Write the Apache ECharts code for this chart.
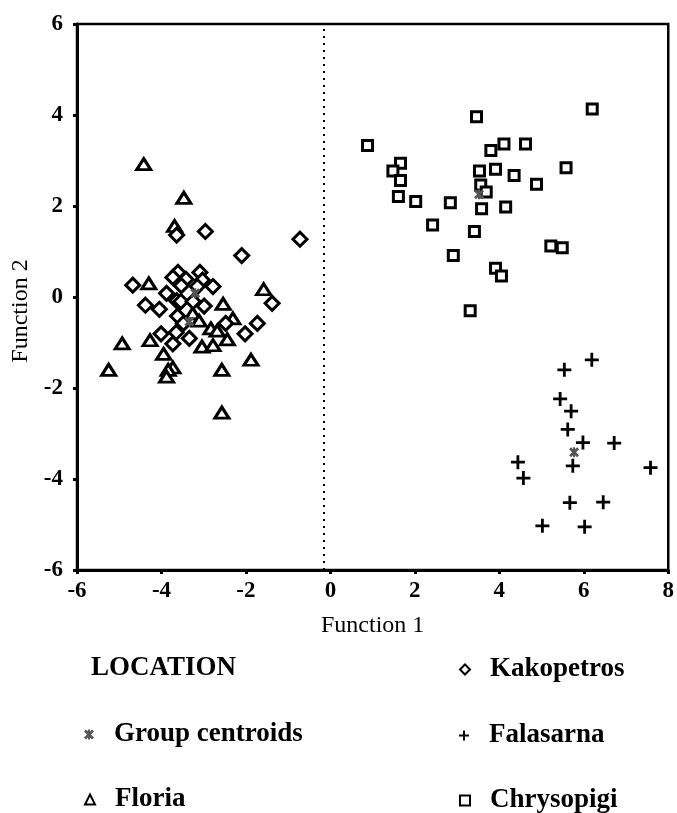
<!DOCTYPE html>
<html>
<head>
<meta charset="utf-8">
<script src="https://cdn.jsdelivr.net/npm/echarts@6.0.0/dist/echarts.min.js"></script>
<style>
  html, body { margin: 0; padding: 0; background: #fff; }
  #chart { width: 677px; height: 813px; }
</style>
</head>
<body>
<div id="chart"></div>
<script>
// discriminant scores [Function 1, Function 2]
var floria = [
  [-4.42, 2.92], [-3.47, 2.18], [-3.69, 1.56], [-4.30, 0.30], [-1.58, 0.17],
  [-2.54, -0.15], [-3.26, -0.36], [-3.11, -0.52], [-2.31, -0.47], [-2.83, -0.69],
  [-2.68, -0.74], [-2.44, -0.93], [-4.27, -0.95], [-4.93, -1.02], [-3.04, -1.09],
  [-2.78, -1.06], [-3.95, -1.25], [-1.88, -1.38], [-5.25, -1.60], [-3.73, -1.55],
  [-3.84, -1.60], [-3.88, -1.75], [-2.57, -1.60], [-2.57, -2.54]
]
var kakopetros = [
  [-3.64, 1.36], [-2.96, 1.44], [-0.72, 1.27], [-2.10, 0.91], [-4.68, 0.26],
  [-3.61, 0.54], [-3.73, 0.43], [-3.42, 0.39], [-3.53, 0.25], [-3.09, 0.54],
  [-3.03, 0.37], [-2.78, 0.23], [-3.15, 0.23], [-3.88, 0.08], [-1.38, -0.14],
  [-4.38, -0.18], [-4.05, -0.27], [-3.64, -0.08], [-3.54, -0.10], [-3.25, -0.10],
  [-2.99, -0.20], [-3.62, -0.42], [-3.48, -0.58], [-2.48, -0.58], [-1.73, -0.58],
  [-2.02, -0.81], [-4.01, -0.81], [-3.65, -0.78], [-3.34, -0.91], [-3.73, -1.03]
]
var falasarna = [
  [6.19, -1.38], [5.54, -1.60], [5.44, -2.24], [5.70, -2.51], [5.62, -2.91],
  [5.98, -3.20], [6.72, -3.21], [4.44, -3.63], [4.57, -3.98], [5.74, -3.71],
  [7.58, -3.75], [5.67, -4.52], [6.46, -4.51], [5.02, -5.03], [6.02, -5.05]
]
var chrysopigi = [
  [0.88, 3.33], [3.46, 3.96], [6.20, 4.13], [3.80, 3.22], [4.11, 3.36],
  [4.62, 3.36], [1.66, 2.94], [1.48, 2.77], [1.66, 2.56], [3.53, 2.77],
  [3.91, 2.81], [4.35, 2.67], [5.58, 2.84], [4.88, 2.48], [3.56, 2.46],
  [3.69, 2.31], [1.61, 2.21], [2.02, 2.10], [2.84, 2.07], [3.58, 1.94],
  [4.15, 1.98], [2.42, 1.58], [3.41, 1.44], [5.22, 1.12], [5.49, 1.08],
  [2.91, 0.91], [3.91, 0.63], [4.05, 0.46], [3.31, -0.30]
]
var centroids = [[-3.34, -0.54], [-3.20, 0.08], [3.52, 2.26], [5.77, -3.41]]
var divideAt = -0.15 // dotted line

var serif = '"Liberation Serif", "DejaVu Serif", serif'
var hollow = { color: '#fff', borderColor: '#000', borderWidth: 3, opacity: 1 }

// one legend per entry so the 2-column layout can be placed by hand
function legendAt(name, left, top) {
  return {
    left: left,
    top: top,
    itemWidth: 10,
    itemHeight: 10,
    data: [name],
    itemStyle: { borderWidth: 2 },
    textStyle: { fontFamily: serif, fontSize: 27, fontWeight: 'bold', color: '#000', padding: [0, 0, 0, 15] }
  }
}

var chart = echarts.init(document.getElementById('chart'))
chart.setOption({
  animation: false,
  backgroundColor: '#fff',
  title: {
    text: 'LOCATION',
    left: 86,
    top: 650,
    textStyle: { fontFamily: serif, fontSize: 27, fontWeight: 'bold', color: '#000' }
  },
  legend: [
    legendAt('Group centroids', 79, 716),
    legendAt('Floria', 79, 781),
    legendAt('Kakopetros', 454, 651),
    legendAt('Falasarna', 454, 717),
    legendAt('Chrysopigi', 454, 782)
  ],
  grid: {
    left: 77,
    right: 5,
    top: 24,
    height: 546,
    show: true,
    borderColor: '#000',
    borderWidth: 2.5
  },
  xAxis: {
    type: 'value',
    min: -6,
    max: 8,
    interval: 2,
    name: 'Function 1',
    nameLocation: 'middle',
    nameGap: 44,
    nameTextStyle: { fontFamily: serif, fontSize: 24, color: '#000' },
    axisLine: { show: true, onZero: false, lineStyle: { color: '#000', width: 3 } },
    axisTick: { show: true, length: 4, lineStyle: { color: '#000', width: 3 } },
    axisLabel: { margin: 10, fontFamily: serif, fontSize: 23, fontWeight: 'bold', color: '#000' },
    splitLine: { show: false }
  },
  yAxis: {
    type: 'value',
    min: -6,
    max: 6,
    interval: 2,
    name: 'Function 2',
    nameLocation: 'middle',
    nameGap: 44,
    nameTextStyle: { fontFamily: serif, fontSize: 24, color: '#000', padding: [0, 28, 0, 0] },
    axisLine: { show: true, onZero: false, lineStyle: { color: '#000', width: 3 } },
    axisTick: { show: true, length: 4, lineStyle: { color: '#000', width: 3 } },
    axisLabel: { margin: 14, fontFamily: serif, fontSize: 23, fontWeight: 'bold', color: '#000' },
    splitLine: { show: false }
  },
  series: [
    {
      name: 'Floria',
      type: 'scatter',
      symbol: 'triangle',
      symbolSize: [14, 11],
      itemStyle: hollow,
      data: floria,
      markLine: {
        silent: true,
        symbol: 'none',
        label: { show: false },
        lineStyle: { color: '#000', width: 2, type: [2, 5] },
        data: [{ xAxis: divideAt }]
      }
    },
    {
      name: 'Kakopetros',
      type: 'scatter',
      symbol: 'diamond',
      symbolSize: 14,
      itemStyle: hollow,
      data: kakopetros
    },
    {
      name: 'Falasarna',
      type: 'scatter',
      symbol: 'path://M4,0H6V4H10V6H6V10H4V6H0V4H4Z',
      symbolSize: 14,
      itemStyle: { color: '#000', opacity: 1 },
      data: falasarna
    },
    {
      name: 'Chrysopigi',
      type: 'scatter',
      symbol: 'rect',
      symbolSize: 10,
      itemStyle: hollow,
      data: chrysopigi
    },
    {
      name: 'Group centroids',
      type: 'scatter',
      symbol: 'path://M0,2L2,0L10,8L8,10Z M8,0L10,2L2,10L0,8Z M4,0H6V10H4Z',
      symbolSize: 10,
      itemStyle: { color: '#555', opacity: 1 },
      z: 5,
      data: centroids
    }
  ]
})
</script>
</body>
</html>
